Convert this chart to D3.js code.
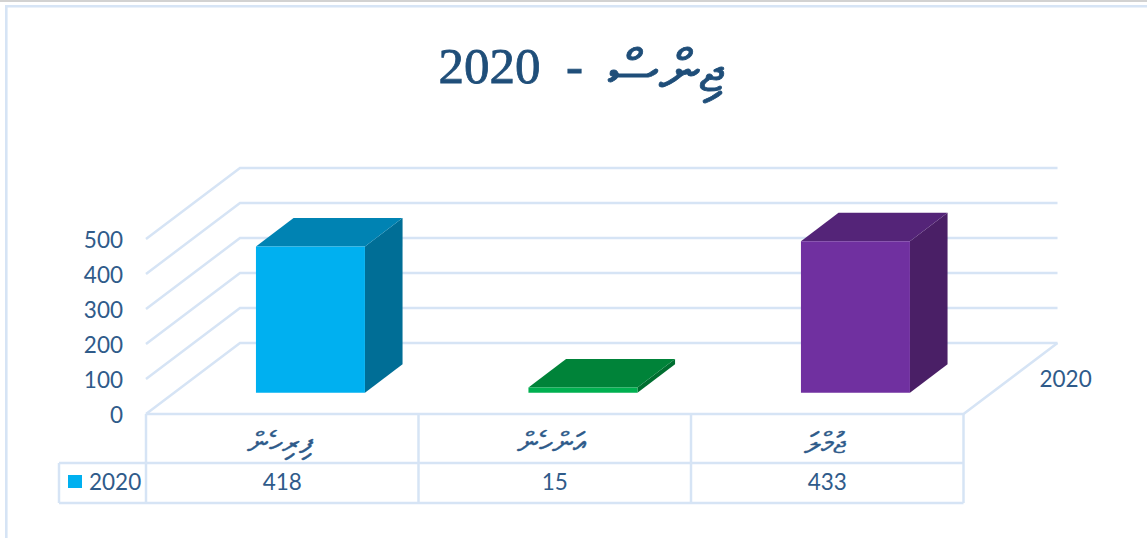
<!DOCTYPE html>
<html>
<head>
<meta charset="utf-8">
<script src="https://cdn.jsdelivr.net/npm/d3@7"></script>
<style>
    html, body { margin: 0; padding: 0; background: #fff; }
    svg { display: block; }
    text { fill: #2f5b8a; font-family: Lato, sans-serif; font-size: 22.5px; }
    .title { fill: #1f4e79; stroke: #1f4e79; stroke-width: 0.8px; font-family: "Liberation Serif", serif; font-size: 51px; white-space: pre; }
    .cat { font-family: "Liberation Serif", serif; font-size: 29.5px; stroke: #2f5b8a; stroke-width: 0.35px; }
</style>
</head>
<body>
<div id="chart"></div>
<script>
'use strict';

var titleWord = 'ޖިންސް';
var titleYear = '  -  2020';
var categories = ['ފިރިހެން', 'އަންހެން', 'ޖުމްލަ'];
var seriesName = '2020';
var values2020 = [418, 15, 433];
var yTicks = [0, 100, 200, 300, 400, 500];

var faceColors = ['#00b0f0', '#00b050', '#7030a0'];
var topColors = ['#0083b3', '#008339', '#542478'];
var sideColors = ['#006e96', '#006e30', '#4a1f66'];
var gridColor = '#d6e4f5';

var width = 1147,
    height = 538;

var svg = d3.select('#chart').append('svg')
    .attr('width', width)
    .attr('height', height);

var x = d3.scaleBand().domain(categories).range([146, 963.5]);
var y = d3.scaleLinear().domain([0, 500]).range([414, 239]);
// depth of the box, 0 at the front edge and 1 at the back wall
var depthX = d3.scaleLinear().domain([0, 1]).range([0, 94]);
var depthY = d3.scaleLinear().domain([0, 1]).range([0, -71]);

var line = d3.line();

function frontPoint(px, py, d) {
    return [px + depthX(d), py + depthY(d)];
}

// window edge and chart frame
svg.append('rect').attr('width', width).attr('height', 2).attr('fill', '#d2d2d2');
svg.append('path')
    .attr('d', line([[6.3, height], [6.3, 6.3], [width, 6.3]]))
    .attr('fill', 'none')
    .attr('stroke', gridColor)
    .attr('stroke-width', 2.6);

var title = svg.append('text')
    .attr('class', 'title')
    .attr('x', 581)
    .attr('y', 83)
    .attr('direction', 'rtl')
    .attr('text-anchor', 'middle');
// the word sits lower and larger than the year in the original
title.append('tspan').attr('dy', 8).style('font-size', '58px').text(titleWord);
title.append('tspan').attr('dy', -8).text(titleYear);

// walls
var grid = svg.append('g')
    .attr('fill', 'none')
    .attr('stroke', gridColor)
    .attr('stroke-width', 2.5);

grid.selectAll('path.wall')
    .data(yTicks)
    .enter().append('path')
    .attr('class', 'wall')
    .attr('d', function(d) {
        return line([
            [x.range()[0], y(d)],
            frontPoint(x.range()[0], y(d), 1),
            frontPoint(x.range()[1], y(d), 1)
        ]);
    });

// floor edges
grid.append('path')
    .attr('d', line([
        frontPoint(x.range()[1], y(0), 1),
        [x.range()[1], y(0)],
        [x.range()[0], y(0)]
    ]));

// data table
var tableLeft = 59,
    rowLine = 463,
    tableBottom = 503;

grid.append('path').attr('d', line([[tableLeft, rowLine], [x.range()[1], rowLine]]));
grid.append('path').attr('d', line([[tableLeft, tableBottom], [x.range()[1], tableBottom]]));
grid.append('path').attr('d', line([[tableLeft, rowLine], [tableLeft, tableBottom]]));
grid.selectAll('path.col')
    .data(categories.concat(null))
    .enter().append('path')
    .attr('class', 'col')
    .attr('d', function(d) {
        var px = d === null ? x.range()[1] : x(d);
        return line([[px, y(0)], [px, tableBottom]]);
    });

// bars
var barDepthFront = 0.3,
    barDepthBack = 0.7,
    barWidth = x.bandwidth() * 0.4;

var bars = svg.selectAll('g.bar')
    .data(values2020)
    .enter().append('g')
    .attr('class', 'bar');

function barCorners(v, i) {
    var center = x(categories[i]) + x.bandwidth() / 2,
        left = center - barWidth / 2,
        right = center + barWidth / 2;
    return {
        fl: frontPoint(left, y(0), barDepthFront),
        fr: frontPoint(right, y(0), barDepthFront),
        tl: frontPoint(left, y(v), barDepthFront),
        tr: frontPoint(right, y(v), barDepthFront),
        br: frontPoint(right, y(0), barDepthBack),
        trb: frontPoint(right, y(v), barDepthBack),
        tlb: frontPoint(left, y(v), barDepthBack)
    };
}

bars.append('path')
    .attr('fill', function(d, i) { return sideColors[i]; })
    .attr('d', function(d, i) {
        var c = barCorners(d, i);
        return line([c.fr, c.br, c.trb, c.tr]) + 'Z';
    });
bars.append('path')
    .attr('fill', function(d, i) { return topColors[i]; })
    .attr('d', function(d, i) {
        var c = barCorners(d, i);
        return line([c.tl, c.tr, c.trb, c.tlb]) + 'Z';
    });
bars.append('path')
    .attr('fill', function(d, i) { return faceColors[i]; })
    .attr('d', function(d, i) {
        var c = barCorners(d, i);
        return line([c.fl, c.fr, c.tr, c.tl]) + 'Z';
    });

// value axis
var yAxis = svg.append('g')
    .attr('transform', 'translate(' + x.range()[0] + ',0)')
    .call(d3.axisLeft(y).tickValues(yTicks).tickSize(0).tickPadding(23));
yAxis.select('.domain').remove();
yAxis.selectAll('text')
    .attr('fill', null)
    .attr('dy', '0.36em')
    .style('font-size', '22.5px')
    .style('font-family', 'Lato, sans-serif');

// series label on the depth axis
svg.append('text')
    .attr('x', frontPoint(x.range()[1], y(0), 0.5)[0] + 29)
    .attr('y', frontPoint(x.range()[1], y(0), 0.5)[1])
    .attr('dy', '0.36em')
    .text(seriesName);

// table text
svg.selectAll('text.cat')
    .data(categories)
    .enter().append('text')
    .attr('class', 'cat')
    .attr('x', function(d) { return x(d) + x.bandwidth() / 2 - 3; })
    .attr('y', 453)
    .attr('direction', 'rtl')
    .attr('text-anchor', 'middle')
    .text(function(d) { return d; });

svg.selectAll('text.val')
    .data(values2020)
    .enter().append('text')
    .attr('class', 'val')
    .attr('x', function(d, i) { return x(categories[i]) + x.bandwidth() / 2; })
    .attr('y', 482)
    .attr('dy', '0.36em')
    .attr('text-anchor', 'middle')
    .text(function(d) { return d; });

svg.append('rect')
    .attr('x', 68)
    .attr('y', 475)
    .attr('width', 14)
    .attr('height', 13)
    .attr('fill', faceColors[0]);
svg.append('text')
    .attr('x', 89)
    .attr('y', 482)
    .attr('dy', '0.36em')
    .text(seriesName);
</script>
</body>
</html>
